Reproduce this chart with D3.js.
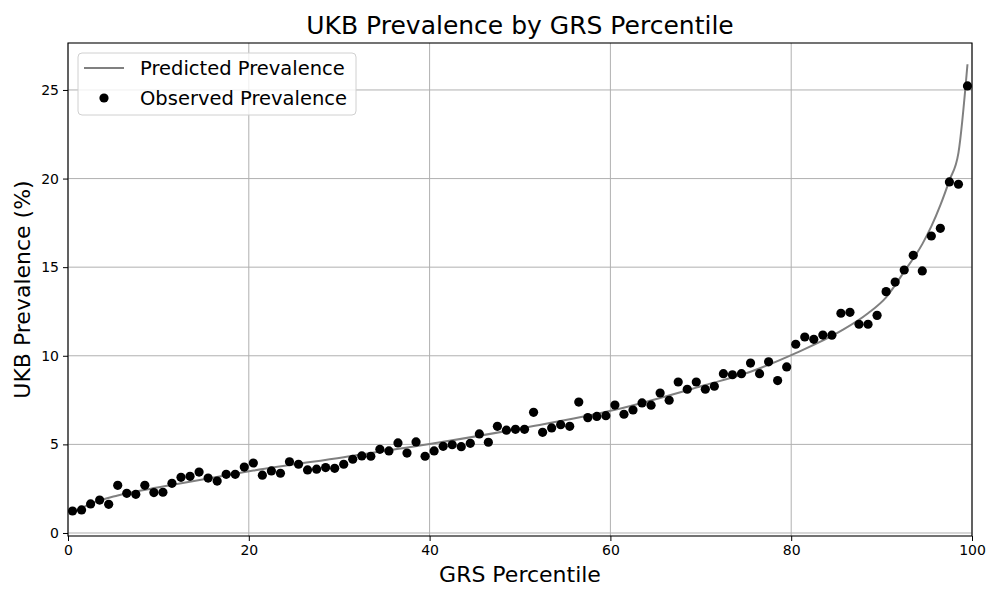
<!DOCTYPE html>
<html>
<head>
<meta charset="utf-8">
<script src="https://cdn.jsdelivr.net/npm/d3@7"></script>
<style>
body{margin:0;background:#fff;}
text{font-family:"DejaVu Sans",sans-serif;}
</style>
</head>
<body>
<div id="chart"></div>
<script>
var width = 1000
var height = 600
var padLeft = 68, padRight = 972, padTop = 43, padBottom = 536

// observed prevalence (%) at percentiles 0.5 .. 99.5
var observed = [1.24,1.30,1.64,1.86,1.62,2.69,2.24,2.18,2.69,2.28,
2.30,2.80,3.14,3.20,3.44,3.10,2.93,3.31,3.31,3.72,
3.95,3.26,3.50,3.37,4.02,3.88,3.56,3.60,3.69,3.65,
3.88,4.16,4.35,4.33,4.72,4.63,5.08,4.51,5.14,4.33,
4.63,4.89,4.98,4.87,5.06,5.59,5.12,6.02,5.80,5.85,
5.85,6.81,5.68,5.93,6.11,6.02,7.39,6.51,6.58,6.62,
7.22,6.70,6.94,7.34,7.21,7.90,7.49,8.52,8.11,8.52,
8.11,8.28,8.99,8.93,8.99,9.59,8.99,9.66,8.60,9.37,
10.65,11.06,10.93,11.17,11.16,12.40,12.45,11.78,11.78,12.28,
13.62,14.16,14.84,15.67,14.79,16.76,17.19,19.81,19.68,25.23]

// predicted curve
var predX = [0.5,2.5,5.5,10.5,15.5,20.5,30.5,40.5,50.5,60.5,70.5,75.5,80.5,85.5,88.5,90.5,92.5,94.5,95.5,96.5,97.5,98.5,99.5]
var predY = [1.13,1.65,2.12,2.62,3.08,3.52,4.28,5.06,5.94,6.95,8.35,9.10,10.15,11.40,12.40,13.30,14.75,16.30,17.30,18.50,19.90,21.45,26.45]

var xTicks = [0,20,40,60,80,100]
var yTicks = [0,5,10,15,20,25]

var svg = d3.select("#chart").append("svg")
.attr("width",width)
.attr("height",height)

var x = d3.scaleLinear().domain([0,100]).range([padLeft,padRight])
var y = d3.scaleLinear().domain([-0.17,27.65]).range([padBottom,padTop])

// grid
svg.append("g").selectAll("line").data(xTicks).enter().append("line")
.attr("x1",d=>x(d)).attr("x2",d=>x(d)).attr("y1",padTop).attr("y2",padBottom)
.style("stroke","#b0b0b0").style("stroke-width",1)
svg.append("g").selectAll("line").data(yTicks).enter().append("line")
.attr("y1",d=>y(d)).attr("y2",d=>y(d)).attr("x1",padLeft).attr("x2",padRight)
.style("stroke","#b0b0b0").style("stroke-width",1)

// predicted line
var line = d3.line().x((d,i)=>x(predX[i])).y(d=>y(d)).curve(d3.curveMonotoneX)
svg.append("path")
.datum(predY)
.attr("d",line)
.style("fill","none")
.style("stroke","gray")
.style("stroke-width",2)

// observed points
svg.append("g").selectAll("circle")
.data(observed)
.enter()
.append("circle")
.attr("cx",(d,i)=>x(i+0.5))
.attr("cy",d=>y(d))
.attr("r",4.6)
.style("fill","black")

// axes
var xAxis = svg.append("g")
.attr("transform","translate(0,"+padBottom+")")
.call(d3.axisBottom(x).tickValues(xTicks).tickSize(5).tickPadding(4))
var yAxis = svg.append("g")
.attr("transform","translate("+padLeft+",0)")
.call(d3.axisLeft(y).tickValues(yTicks).tickSize(5).tickPadding(4))
xAxis.selectAll("text").style("font-size","14px").style("fill","black").style("font-family","DejaVu Sans")
yAxis.selectAll("text").style("font-size","14px").style("fill","black").style("font-family","DejaVu Sans")
xAxis.select(".domain").remove()
yAxis.select(".domain").remove()

// frame
svg.append("rect")
.attr("x",padLeft).attr("y",padTop)
.attr("width",padRight-padLeft).attr("height",padBottom-padTop)
.style("fill","none").style("stroke","black").style("stroke-width",1.1)

// titles
svg.append("text")
.attr("x",(padLeft+padRight)/2).attr("y",34)
.attr("text-anchor","middle")
.style("font-size","25px")
.text("UKB Prevalence by GRS Percentile")

svg.append("text")
.attr("x",(padLeft+padRight)/2).attr("y",582)
.attr("text-anchor","middle")
.style("font-size","22px")
.text("GRS Percentile")

svg.append("text")
.attr("transform",`translate(30,${(padTop+padBottom)/2})rotate(270)`)
.attr("text-anchor","middle")
.style("font-size","22px")
.text("UKB Prevalence (%)")

// legend
var lg = svg.append("g").attr("transform","translate(78,53)")
lg.append("rect")
.attr("width",278).attr("height",62).attr("rx",4)
.style("fill","white").style("fill-opacity",0.8)
.style("stroke","#d0d0d0").style("stroke-width",1)
lg.append("line")
.attr("x1",6).attr("x2",46).attr("y1",15).attr("y2",15)
.style("stroke","gray").style("stroke-width",2)
lg.append("circle")
.attr("cx",26).attr("cy",45).attr("r",4.6).style("fill","black")
lg.append("text").attr("x",62).attr("y",22).style("font-size","19.5px").text("Predicted Prevalence")
lg.append("text").attr("x",62).attr("y",52).style("font-size","19.5px").text("Observed Prevalence")
</script>
</body>
</html>
